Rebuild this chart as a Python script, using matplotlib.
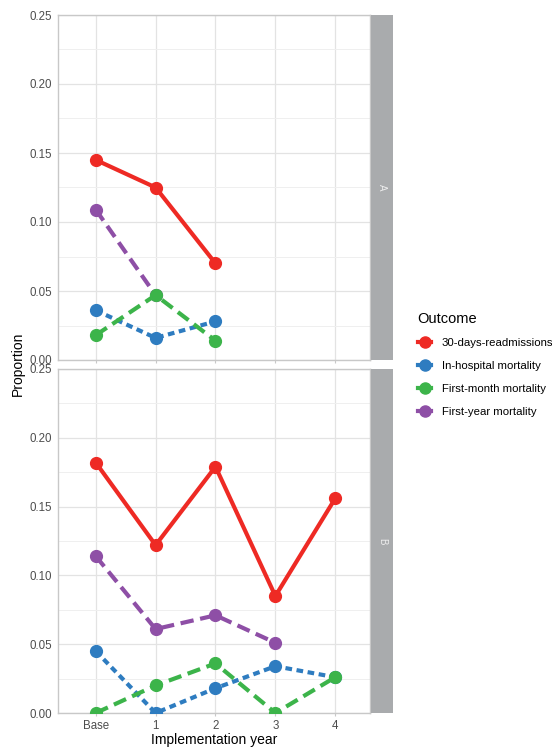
import matplotlib.pyplot as plt
from matplotlib.lines import Line2D
import numpy as np

plt.rcParams['font.family'] = ['Liberation Sans', 'DejaVu Sans']

years = ['Base', '1', '2', '3', '4']
outcomes = ['30-days-readmissions', 'In-hospital mortality',
            'First-month mortality', 'First-year mortality']

# panel A
a_readm = [0.145, 0.125, 0.070, np.nan, np.nan]
a_inhosp = [0.036, 0.016, 0.028, np.nan, np.nan]
a_month = [0.018, 0.047, 0.014, np.nan, np.nan]
a_year = [0.109, 0.047, np.nan, np.nan, np.nan]

# panel B
b_readm = [0.182, 0.122, 0.179, 0.085, 0.156]
b_inhosp = [0.045, 0.000, 0.018, 0.034, 0.026]
b_month = [0.000, 0.020, 0.036, 0.000, 0.026]
b_year = [0.114, 0.061, 0.071, 0.051, np.nan]

colors = ['#ee2a24', '#2e7cc0', '#3cb44a', '#8e4fa6']
styles = ['-', (0, (1.6, 1.1)), (0, (3.2, 1.6)), (0, (3.2, 1.6))]
order = [0, 3, 1, 2]  # drawing order

W, H = 552, 747
fig = plt.figure(figsize=(W / 100, H / 100), dpi=100)


def px(l, t, w, h):
    return [l / W, 1 - (t + h) / H, w / W, h / H]


def panel(top, bottom, series, tag, show_x):
    ax = fig.add_axes(px(58, top, 312, bottom - top))
    x = np.arange(len(years))
    ax.set_xlim(-0.63, 4.58)
    ax.set_ylim(0, 0.25)
    ax.set_yticks([0, 0.05, 0.10, 0.15, 0.20, 0.25])
    ax.set_yticklabels(['0.00', '0.05', '0.10', '0.15', '0.20', '0.25'])
    ax.set_yticks(np.arange(0.025, 0.25, 0.05), minor=True)
    ax.set_xticks(x)
    ax.set_xticklabels(years if show_x else [])
    ax.grid(True, which='major', color='#e3e3e3', lw=0.9)
    ax.grid(True, which='minor', axis='y', color='#efefef', lw=0.7)
    ax.set_axisbelow(True)
    for s in ax.spines.values():
        s.set_color('#c8c8c8')
        s.set_linewidth(1.0)
    ax.tick_params(which='both', length=0, labelsize=8.3, labelcolor='#4d4d4d', pad=4)
    ax.tick_params(axis='x', length=2.5, color='#c8c8c8', labelsize=8.3, pad=2.5)
    for i in order:
        ax.plot(x, series[i], color=colors[i], linestyle=styles[i], lw=3.0,
                marker='o', ms=8.5, dash_capstyle='butt', zorder=3)
    st = fig.add_axes(px(371, top, 22, bottom - top))
    st.set_facecolor('#a9abad')
    st.set_xticks([])
    st.set_yticks([])
    for s in st.spines.values():
        s.set_visible(False)
    st.text(0.5, 0.5, tag, rotation=-90, ha='center', va='center',
            color='#eeeeee', fontsize=7, transform=st.transAxes)
    return ax


panel(15, 360, [a_readm, a_inhosp, a_month, a_year], 'A', False)
panel(369, 713, [b_readm, b_inhosp, b_month, b_year], 'B', True)

fig.text(214 / W, 1 - 740 / H, 'Implementation year', ha='center', va='center', fontsize=10)
fig.text(18 / W, 1 - 364 / H, 'Proportion', ha='center', va='center', rotation=90, fontsize=10)

handles = [Line2D([0], [0], color=c, lw=3, marker='o', ms=8) for c in colors]
leg = fig.legend(handles, outcomes, title='Outcome', loc='upper left',
                 bbox_to_anchor=(412 / W, 1 - 306 / H), frameon=False,
                 fontsize=8.2, title_fontsize=10.5, handlelength=1.2,
                 labelspacing=1.12, handletextpad=0.9, borderpad=0)
leg._legend_box.align = 'left'

fig.savefig('out.png', dpi=100)
